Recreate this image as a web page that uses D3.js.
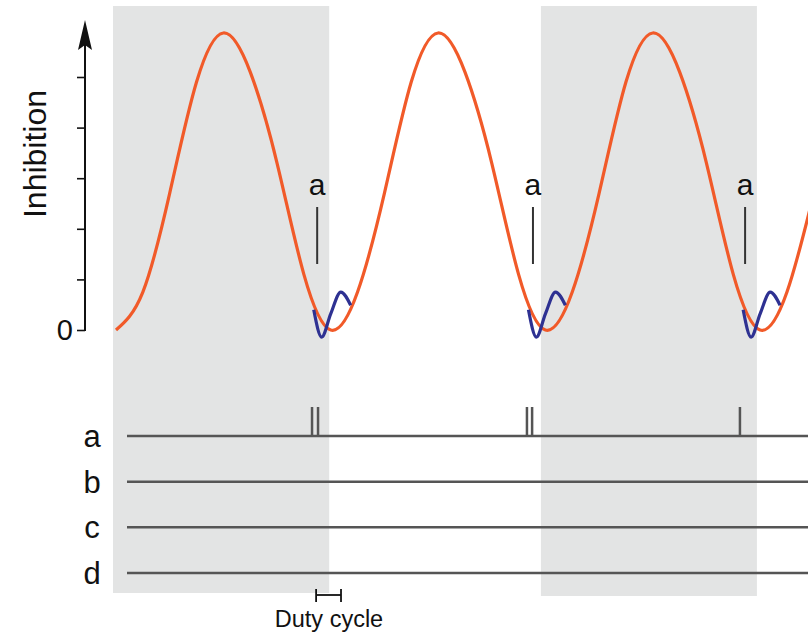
<!DOCTYPE html>
<html>
<head>
<meta charset="utf-8">
<script src="https://cdn.jsdelivr.net/npm/d3@7"></script>
<style>
    body { margin: 0; background: #fff; }
    svg { display: block; font-family: "Liberation Sans", Arial, Helvetica, sans-serif; }
</style>
</head>
<body>
<div class="chart"></div>
<script>
"use strict"

// time is measured in oscillation cycles, inhibition in axis units
const orangeTimes = [0, 0.125, 0.25, 0.375, 0.5, 0.625, 0.75, 0.875,
    1, 1.125, 1.25, 1.375, 1.5, 1.625, 1.75, 1.875,
    2, 2.125, 2.25, 2.375, 2.5, 2.625, 2.75, 2.875,
    3, 3.125, 3.25, 3.375]
const orangeValues = [0, 0.75, 2.7, 4.9, 5.87, 5.1, 3.3, 1.1,
    0, 0.75, 2.7, 4.9, 5.87, 5.1, 3.3, 1.1,
    0, 0.75, 2.7, 4.9, 5.87, 5.1, 3.3, 1.1,
    0, 0.75, 2.7, 4.9]

// blue wiggle around each trough
const troughTimes = [1, 2, 3]
const blueOffsets = [-0.079, -0.042, 0.0, 0.047, 0.093]
const blueValues = [0.40, -0.14, 0.32, 0.75, 0.49]

// "a" markers above the curve
const markerTimes = [0.937, 1.942, 2.930]

// shaded cycles
const bandStarts = [-0.014, 1.979]
const bandEnds = [0.993, 2.985]

// raster
const rows = ["a", "b", "c", "d"]
const spikeTimes = [0.913, 0.941, 1.914, 1.938, 2.906]

const yTicks = [0, 1, 2, 3, 4, 5]
const dutyCycle = [0.932, 1.048]

const W = 808, H = 633
const ORANGE = "#f15a29", BLUE = "#2e3192", INK = "#111", LINE = "#555"

const svg = d3.select(".chart").append("svg").attr("width", W).attr("height", H)

const x = d3.scaleLinear().domain([0, 3.223]).range([116, 808])
const y = d3.scaleLinear().domain([0, 5]).range([330, 77])
const rowY = d3.scalePoint().domain(rows).range([436, 573])

// gray bands
svg.append("g").selectAll("rect")
    .data(bandStarts)
    .join("rect")
    .attr("x", d => x(d))
    .attr("width", (d, i) => x(bandEnds[i]) - x(d))
    .attr("y", 6)
    .attr("height", (d, i) => i === 0 ? 587 : 590)
    .attr("fill", "#e3e4e4")

// y axis
const yAxis = svg.append("g").attr("transform", "translate(85,0)")
    .call(d3.axisLeft(y).tickValues(yTicks).tickSize(8).tickPadding(4)
        .tickFormat(d => d === 0 ? "0" : ""))
yAxis.select(".domain").remove()
yAxis.selectAll(".tick line").attr("stroke", INK).attr("stroke-width", 1.6)
yAxis.selectAll(".tick text").attr("font-size", 29).attr("fill", INK)
    .attr("font-family", "Liberation Sans, Arial, sans-serif")
yAxis.append("line").attr("x1", 0).attr("x2", 0)
    .attr("y1", y(0) + 1).attr("y2", 30)
    .attr("stroke", INK).attr("stroke-width", 2)
yAxis.append("path").attr("d", "M0,20 L-7,50 L0,45 L7,50 Z").attr("fill", INK)

svg.append("text")
    .attr("transform", "translate(46,154) rotate(-90)")
    .attr("text-anchor", "middle")
    .attr("font-size", 32)
    .attr("fill", INK)
    .text("Inhibition")

// orange inhibition curve
const orangeLine = d3.line()
    .x((d, i) => x(orangeTimes[i]))
    .y(d => y(d))
    .curve(d3.curveNatural)

svg.append("path")
    .attr("d", orangeLine(orangeValues))
    .attr("fill", "none")
    .attr("stroke", ORANGE)
    .attr("stroke-width", 3.2)

// blue wiggles
const blueLine = d3.line()
    .x(d => x(d.t))
    .y(d => y(d.v))
    .curve(d3.curveMonotoneX)

troughTimes.forEach(t => {
    let pts = blueOffsets.map((o, i) => ({ t: t + o, v: blueValues[i] }))
    svg.append("path")
        .attr("d", blueLine(pts))
        .attr("fill", "none")
        .attr("stroke", BLUE)
        .attr("stroke-width", 3.2)
})

// "a" markers
const markers = svg.append("g").selectAll("g")
    .data(markerTimes)
    .join("g")
    .attr("transform", d => "translate(" + x(d) + ",0)")
markers.append("text")
    .attr("y", 195)
    .attr("text-anchor", "middle")
    .attr("font-size", 30)
    .attr("fill", INK)
    .text("a")
markers.append("line")
    .attr("y1", 207).attr("y2", 264)
    .attr("stroke", "#333").attr("stroke-width", 2)

// raster rows
const raster = svg.append("g")
raster.selectAll("line.row")
    .data(rows)
    .join("line")
    .attr("class", "row")
    .attr("x1", 127).attr("x2", W)
    .attr("y1", d => rowY(d)).attr("y2", d => rowY(d))
    .attr("stroke", LINE).attr("stroke-width", 2.5)
raster.selectAll("text")
    .data(rows)
    .join("text")
    .attr("x", 92)
    .attr("y", d => rowY(d) + 11)
    .attr("text-anchor", "middle")
    .attr("font-size", 31)
    .attr("fill", INK)
    .text(d => d)
raster.selectAll("line.spike")
    .data(spikeTimes)
    .join("line")
    .attr("class", "spike")
    .attr("x1", d => x(d)).attr("x2", d => x(d))
    .attr("y1", rowY("a")).attr("y2", rowY("a") - 29)
    .attr("stroke", LINE).attr("stroke-width", 2.5)

// duty cycle bracket
const dc = svg.append("g").attr("stroke", INK).attr("stroke-width", 1.8)
dc.append("line").attr("x1", x(dutyCycle[0])).attr("x2", x(dutyCycle[1]))
    .attr("y1", 595).attr("y2", 595)
dutyCycle.forEach(t => {
    dc.append("line").attr("x1", x(t)).attr("x2", x(t)).attr("y1", 589).attr("y2", 602)
})
svg.append("text")
    .attr("x", 329).attr("y", 627)
    .attr("text-anchor", "middle")
    .attr("font-size", 23.5)
    .attr("fill", INK)
    .text("Duty cycle")
</script>
</body>
</html>
